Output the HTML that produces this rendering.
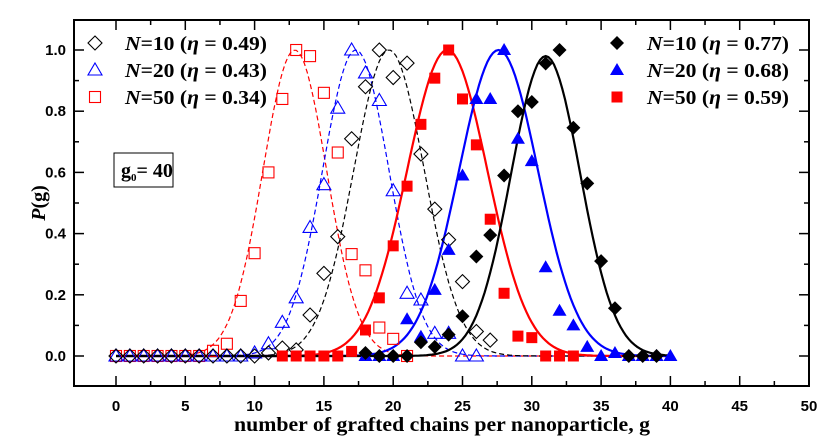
<!DOCTYPE html>
<html><head><meta charset="utf-8"><style>
body{margin:0;background:#fff}
svg{display:block}
.tl{font-family:"Liberation Sans",Arial,sans-serif;font-weight:bold;font-size:15px}
.lg{font-family:"Liberation Serif",serif;font-weight:bold;font-size:20px}
</style></head><body>
<svg id="chart" width="822" height="439" viewBox="0 0 822 439" xmlns="http://www.w3.org/2000/svg">
<rect x="0" y="0" width="822" height="439" fill="#fff"/>
<g id="plot"></g>
<rect x="74" y="20" width="735" height="366" fill="none" stroke="#000" stroke-width="2"/>
<g id="axes"></g>
<text x="442" y="431" text-anchor="middle" textLength="416" lengthAdjust="spacingAndGlyphs" class="lg">number of grafted chains per nanoparticle, g</text>
<text transform="translate(45,203) rotate(-90)" text-anchor="middle" class="lg" font-size="24"><tspan font-style="italic">P</tspan>(g)</text>
<g>
<rect x="114" y="153" width="59" height="34" fill="#fff" stroke="#000" stroke-width="1"/>
<text x="121" y="177" class="lg" font-size="19">g<tspan font-size="11" dy="4">0</tspan><tspan dy="-4">= 40</tspan></text>
</g>
<g id="legend"></g>
</svg>
<script>
const gVals=[];for(let i=0;i<=40;i++)gVals.push(i);
const N10open=[0,0,0,0,0,0,0,0,0,0,0,0.01,0.026,0.02,0.134,0.27,0.39,0.71,0.88,1.0,0.91,0.957,0.66,0.48,0.38,0.243,0.08,0.052,null,null,null,null,null,null,null,null,null,null,null,null,null];
const N20open=[0,0,0,0,0,0,0,0,0,0,0.01,0.04,0.11,0.19,0.42,0.56,0.81,1.0,0.925,0.835,0.54,0.205,0.183,0.074,0.074,0,0,null,null,null,null,null,null,null,null,null,null,null,null,null,null];
const N50open=[0,0,0,0,0,0,0,0.017,0.04,0.18,0.336,0.60,0.84,1.0,0.98,0.86,0.665,0.333,0.28,0.093,0.056,0,null,null,null,null,null,null,null,null,null,null,null,null,null,null,null,null,null,null,null];
const N10fill=[null,null,null,null,null,null,null,null,null,null,null,null,null,null,null,null,null,null,0.01,0,0,0,0.045,0.03,0.07,0.13,0.325,0.395,0.59,0.80,0.83,0.956,1.0,0.746,0.564,0.31,0.156,0,0,0,null];
const N20fill=[null,null,null,null,null,null,null,null,null,null,null,null,null,null,null,null,null,null,0,0,0,0.12,0.063,0.216,0.347,0.59,0.84,0.84,1.0,0.71,0.637,0.29,0.148,0.10,0.03,0,0.01,0,0,0,0];
const N50fill=[null,null,null,null,null,null,null,null,null,null,null,null,0,0,0,0,0,0.015,0.085,0.19,0.36,0.555,0.757,0.908,1.0,0.84,0.69,0.447,0.205,0.065,0.06,0,0,0,null,null,null,null,null,null,null];
// Gaussian fit parameters: [mean, sigma, amplitude]
const fitN10open=[19.7,2.55,1.0];
const fitN20open=[17.3,2.4,1.0];
const fitN50open=[12.9,2.3,1.0];
const fitN10fill=[31.0,2.5,0.98];
const fitN20fill=[27.6,2.85,1.0];
const fitN50fill=[23.9,2.9,1.0];
const xTicks=[0,5,10,15,20,25,30,35,40,45,50];
const yTicks=[0.0,0.2,0.4,0.6,0.8,1.0];
const legendLabels=["N=10 (η = 0.49)","N=20 (η = 0.43)","N=50 (η = 0.34)","N=10 (η = 0.77)","N=20 (η = 0.68)","N=50 (η = 0.59)"];

const NS="http://www.w3.org/2000/svg";
const X=g=>116+g*13.86;
const Y=v=>356-v*306;
const plot=document.getElementById('plot'),axes=document.getElementById('axes'),legend=document.getElementById('legend');
function mk(tag,attrs,parent){const e=document.createElementNS(NS,tag);for(const k in attrs)e.setAttribute(k,attrs[k]);parent.appendChild(e);return e;}

xTicks.forEach((t,i)=>{
  const x=X(t);
  const a=mk('line',{x1:x,y1:386,x2:x,y2:376,stroke:'#000','stroke-width':1.5},axes);
  
  
  const b=mk('line',{x1:x,y1:20,x2:x,y2:30,stroke:'#000','stroke-width':1.5},axes);
  
  
  if(i<xTicks.length-1){const xm=X(t+2.5);
    const m=mk('line',{x1:xm,y1:386,x2:xm,y2:381,stroke:'#000','stroke-width':1.5},axes);
    
    
    const m2=mk('line',{x1:xm,y1:20,x2:xm,y2:25,stroke:'#000','stroke-width':1.5},axes);
    
    }
  const tx=mk('text',{x:x,y:411,'text-anchor':'middle',class:'tl'},axes);
  tx.textContent=t;
  
  
});
yTicks.forEach((t,i)=>{
  const y=Y(t);
  const a=mk('line',{x1:74,y1:y,x2:84,y2:y,stroke:'#000','stroke-width':1.5},axes);
  
  
  const b=mk('line',{x1:809,y1:y,x2:799,y2:y,stroke:'#000','stroke-width':1.5},axes);
  
  
  if(i<yTicks.length-1){const ym=Y(t+0.1);
    const m=mk('line',{x1:74,y1:ym,x2:79,y2:ym,stroke:'#000','stroke-width':1.5},axes);
    
    
    const m2=mk('line',{x1:809,y1:ym,x2:804,y2:ym,stroke:'#000','stroke-width':1.5},axes);
    
    }
  const tx=mk('text',{x:66,y:y+5,'text-anchor':'end',class:'tl'},axes);
  tx.textContent=t.toFixed(1);
  
  
});

function curve(p,color,dashed,name){
  let d='';
  for(let g=0;g<=40.001;g+=0.2){const v=p[2]*Math.exp(-Math.pow(g-p[0],2)/(2*p[1]*p[1]));d+=(d?'L':'M')+X(g).toFixed(1)+','+Y(v).toFixed(1);}
  const e=mk('path',{d:d,fill:'none',stroke:color,'stroke-width':dashed?1.2:2.2,'stroke-dasharray':dashed?'5,3':'none'},plot);
  
  
}
function marker(shape,filled,color,cx,cy,parent){
  const f=filled?color:'none',s=filled?'none':color;let e;
  if(shape==='d')e=mk('polygon',{points:`${cx},${cy-7} ${cx+7},${cy} ${cx},${cy+7} ${cx-7},${cy}`,fill:f,stroke:s,'stroke-width':1.1},parent);
  else if(shape==='t')e=mk('polygon',{points:`${cx},${cy-7} ${cx+7},${cy+5} ${cx-7},${cy+5}`,fill:f,stroke:s,'stroke-width':1.1},parent);
  else e=mk('rect',{x:cx-5.5,y:cy-5.5,width:11,height:11,fill:f,stroke:s,'stroke-width':1.1},parent);
  return e;
}
function series(vals,shape,filled,color,name){
  const grp=mk('g',{},plot);
  
  
  vals.forEach((v,i)=>{
    if(v===null)return;
    const e=marker(shape,filled,color,X(gVals[i]),Y(v),grp);
    
    
  });
}
curve(fitN50open,'#f00',true,'fit-n50-open');
curve(fitN20open,'#00f',true,'fit-n20-open');
curve(fitN10open,'#000',true,'fit-n10-open');
curve(fitN50fill,'#f00',false,'fit-n50-filled');
curve(fitN20fill,'#00f',false,'fit-n20-filled');
curve(fitN10fill,'#000',false,'fit-n10-filled');
series(N50open,'s',false,'#f00','series-n50-open');
series(N20open,'t',false,'#00f','series-n20-open');
series(N10open,'d',false,'#000','series-n10-open');
series(N50fill,'s',true,'#f00','series-n50-filled');
series(N20fill,'t',true,'#00f','series-n20-filled');
series(N10fill,'d',true,'#000','series-n10-filled');

const legShapes=['d','t','s','d','t','s'],legFill=[false,false,false,true,true,true],legCol=['#000','#00f','#f00','#000','#00f','#f00'];
legendLabels.forEach((lab,i)=>{
  const col=i<3?0:1;const sx=col?617:95,tx=col?647:125,y=43+(i%3)*27;
  const g=mk('g',{},legend);
  
  
  marker(legShapes[i],legFill[i],legCol[i],sx,y,g);
  const t=mk('text',{x:tx,y:y+7,class:'lg','font-size':21,textLength:142,lengthAdjust:'spacingAndGlyphs'},g);
  const m=lab.match(/N=(\d+) \(η = ([\d.]+)\)/);
  t.innerHTML=`<tspan font-style="italic">N</tspan>=${m[1]} (<tspan font-style="italic">η</tspan> = ${m[2]})`;
});
</script>
</body></html>
